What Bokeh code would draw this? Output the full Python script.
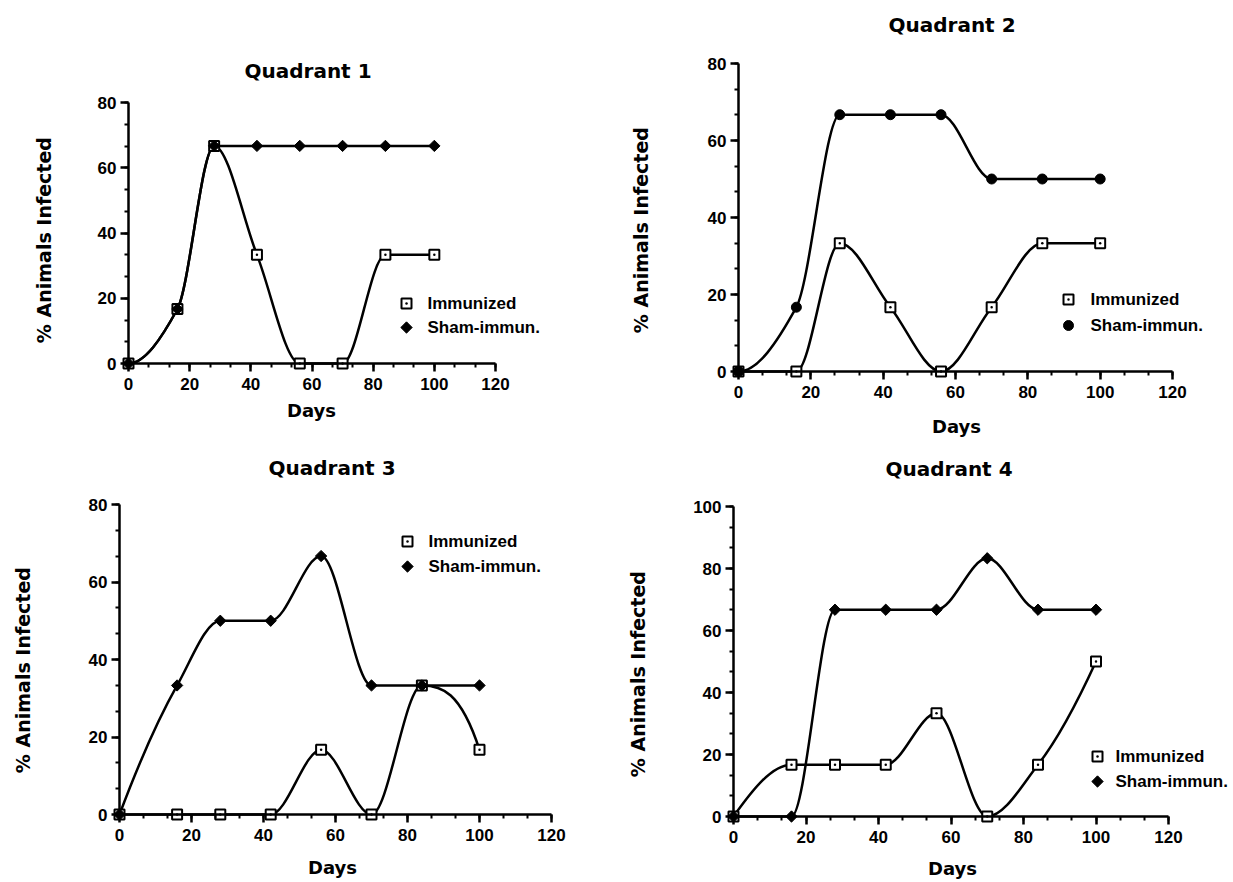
import numpy as np
from bokeh.plotting import figure
from bokeh.models import Range1d, SingleIntervalTicker, Label, ColumnDataSource
from bokeh.layouts import column, row
from bokeh.embed import file_html
from bokeh.resources import INLINE

# ---------------- data ----------------
days = [0, 16, 28, 42, 56, 70, 84, 100]

q1_immunized = [0, 16.7, 66.7, 33.3, 0, 0, 33.3, 33.3]
q1_sham = [0, 16.7, 66.7, 66.7, 66.7, 66.7, 66.7, 66.7]

q2_immunized = [0, 0, 33.3, 16.7, 0, 16.7, 33.3, 33.3]
q2_sham = [0, 16.7, 66.7, 66.7, 66.7, 50.0, 50.0, 50.0]

q3_immunized = [0, 0, 0, 0, 16.7, 0, 33.3, 16.7]
q3_sham = [0, 33.3, 50.0, 50.0, 66.7, 33.3, 33.3, 33.3]

q4_immunized = [0, 16.7, 16.7, 16.7, 33.3, 0, 16.7, 50.0]
q4_sham = [0, 0, 66.7, 66.7, 66.7, 83.3, 66.7, 66.7]

titles = ["Quadrant  1", "Quadrant  2", "Quadrant  3", "Quadrant  4"]
series_names = ["Immunized", "Sham-immun."]
x_label = "Days"
y_label = "%  Animals  Infected"
x_max = 120
y_max = [80, 80, 80, 100]
tick_interval = 20
sham_markers = ["diamond", "circle", "diamond", "diamond"]

# ---------------- layout (page pixels) ----------------
# axis origin x, x=120 px, origin y, y=max px, figure left, top, width, height
geoms = [
    (128, 495, 363, 102, 0, 0, 620, 440),
    (738, 1172, 371, 63, 620, 0, 612, 440),
    (119, 551, 814, 504, 0, 440, 620, 441),
    (733, 1168, 816, 506, 620, 440, 612, 441),
]
title_pos = [(311, 70), (955, 24), (335, 467), (952, 468)]
xlabel_pos = [(311, 410), (956, 426), (332, 867), (952, 868)]
ylabel_pos = [(43, 233), (640, 223), (22, 663), (637, 667)]
# key centre x, first row centre y, row pitch, text start x
legend_pos = [(406, 303, 24, 427), (1068, 299, 26, 1090),
              (407, 541, 25, 428), (1097, 756, 25, 1115)]

BOLD_WIDE = "DejaVu Sans"
BOLD_NARROW = "Liberation Sans"


def pchip_slopes(x, y):
    x = np.asarray(x, float)
    y = np.asarray(y, float)
    h = np.diff(x)
    d = np.diff(y) / h
    n = len(x)
    m = np.zeros(n)
    for k in range(1, n - 1):
        if d[k - 1] * d[k] > 0:
            w1 = 2 * h[k] + h[k - 1]
            w2 = h[k] + 2 * h[k - 1]
            m[k] = (w1 + w2) / (w1 / d[k - 1] + w2 / d[k])

    def end(h0, h1, d0, d1):
        s = ((2 * h0 + h1) * d0 - h0 * d1) / (h0 + h1)
        if np.sign(s) != np.sign(d0):
            s = 0.0
        elif np.sign(d0) != np.sign(d1) and abs(s) > 3 * abs(d0):
            s = 3 * d0
        return s

    m[0] = end(h[0], h[1], d[0], d[1])
    m[-1] = end(h[-1], h[-2], d[-1], d[-2])
    return m


def bezier_source(x, y):
    x = np.asarray(x, float)
    y = np.asarray(y, float)
    m = pchip_slopes(x, y)
    h = np.diff(x)
    return ColumnDataSource(dict(
        x0=x[:-1], y0=y[:-1], x1=x[1:], y1=y[1:],
        cx0=x[:-1] + h / 3, cy0=y[:-1] + m[:-1] * h / 3,
        cx1=x[1:] - h / 3, cy1=y[1:] - m[1:] * h / 3,
    ))


def imm_style():
    return dict(marker="square_dot", size=10, fill_color="white",
                line_color="black", line_width=2)


def sham_style(kind):
    if kind == "diamond":
        return dict(marker="square", angle=np.pi / 4, size=8,
                    fill_color="black", line_color="black", line_width=1)
    return dict(marker="circle", size=10, fill_color="black",
                line_color="black", line_width=1)


def make_panel(i, imm, sham):
    X0, X1, Y0, Ytop, L, T, W, H = geoms[i]
    ymax = y_max[i]
    sx = x_max / (X1 - X0)
    sy = ymax / (Y0 - Ytop)

    def dx(px):
        return (px - X0) * sx

    def dy(py):
        return (Y0 - py) * sy

    p = figure(width=W, height=H, output_backend="svg", toolbar_location=None,
               title=None,
               x_range=Range1d(dx(L), dx(L + W)), y_range=Range1d(dy(T + H), dy(T)),
               min_border=0, min_border_left=0, min_border_right=0,
               min_border_top=0, min_border_bottom=0)
    p.outline_line_color = None
    p.xgrid.visible = False
    p.ygrid.visible = False
    p.background_fill_color = "white"
    p.border_fill_color = "white"

    for ax, top in ((p.xaxis[0], x_max), (p.yaxis[0], ymax)):
        ax.fixed_location = 0
        ax.bounds = (0, top)
        ax.ticker = SingleIntervalTicker(interval=tick_interval, num_minor_ticks=3)
        ax.axis_line_color = "black"
        ax.axis_line_width = 2.5
        ax.major_tick_line_color = "black"
        ax.major_tick_line_width = 2.5
        ax.minor_tick_line_color = "black"
        ax.minor_tick_line_width = 2
        ax.major_tick_in = 0
        ax.major_tick_out = 8
        ax.minor_tick_in = 0
        ax.minor_tick_out = 4
        ax.major_label_text_font = BOLD_NARROW
        ax.major_label_text_font_style = "bold"
        ax.major_label_text_font_size = "17px"
        ax.major_label_text_color = "black"
    p.xaxis[0].major_label_standoff = 6
    p.yaxis[0].major_label_standoff = 4

    for src_y in (imm, sham):
        p.bezier(x0="x0", y0="y0", x1="x1", y1="y1", cx0="cx0", cy0="cy0",
                 cx1="cx1", cy1="cy1", source=bezier_source(days, src_y),
                 line_color="black", line_width=2.5, line_cap="round")

    p.scatter(days, imm, **imm_style())
    p.scatter(days, sham, **sham_style(sham_markers[i]))

    tx, ty = title_pos[i]
    p.add_layout(Label(x=dx(tx), y=dy(ty), text=titles[i], text_font=BOLD_WIDE,
                       text_font_style="bold", text_font_size="20px",
                       text_align="center", text_baseline="middle", text_color="black"))
    lx, ly = xlabel_pos[i]
    p.add_layout(Label(x=dx(lx), y=dy(ly), text=x_label, text_font=BOLD_WIDE,
                       text_font_style="bold", text_font_size="18px",
                       text_align="center", text_baseline="middle", text_color="black"))
    yx, yy = ylabel_pos[i]
    p.add_layout(Label(x=dx(yx), y=dy(yy), text=y_label, text_font=BOLD_WIDE,
                       text_font_style="bold", text_font_size="19px", angle=np.pi / 2,
                       text_align="center", text_baseline="middle", text_color="black"))

    # legend keys and labels
    gx, gy, pitch, tx0 = legend_pos[i]
    p.scatter([dx(gx)], [dy(gy)], **imm_style())
    p.scatter([dx(gx)], [dy(gy + pitch)], **sham_style(sham_markers[i]))
    for k, name in enumerate(series_names):
        p.add_layout(Label(x=dx(tx0), y=dy(gy + k * pitch), text=name,
                           text_font=BOLD_NARROW, text_font_style="bold",
                           text_font_size="17px", text_align="left",
                           text_baseline="middle", text_color="black"))
    return p


panels = [make_panel(0, q1_immunized, q1_sham),
          make_panel(1, q2_immunized, q2_sham),
          make_panel(2, q3_immunized, q3_sham),
          make_panel(3, q4_immunized, q4_sham)]

layout = column(row(panels[0], panels[1], spacing=0),
                row(panels[2], panels[3], spacing=0), spacing=0)

open("out.html", "w").write(file_html(layout, INLINE))
